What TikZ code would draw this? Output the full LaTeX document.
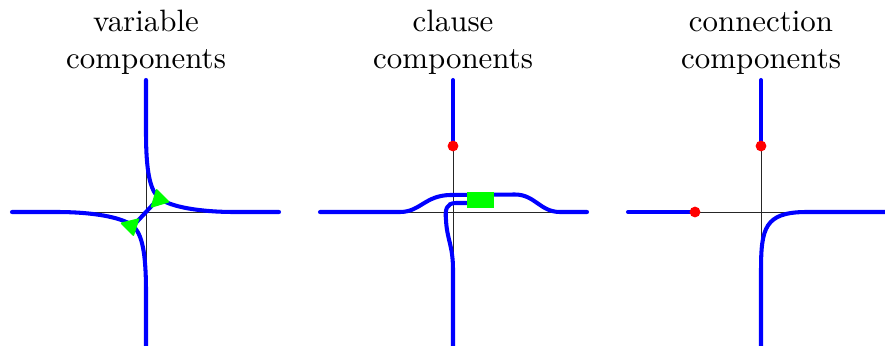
\documentclass[tikz,border=0pt]{standalone}
\begin{document}
\begin{tikzpicture}[x=0.33333pt,y=-0.33333pt,
  axis/.style={black!85, line width=0.3pt},
  wire/.style={blue, line width=1.35pt, line cap=round},
  junction/.style={fill=green, draw=green, line width=0.6pt, line join=round},
  dot/.style={red},
  lbl/.style={anchor=base, inner sep=0pt, font=\fontsize{10.3}{12.2}\selectfont}]
\useasboundingbox (0,0) rectangle (885,345);
% labels
\node[lbl] (v1) at (146,31.7) {variable};
\node[lbl] (v2) at (146,68.3) {components};
\node[lbl] (c1) at (453,31.7) {clause};
\node[lbl] (c2) at (453,68.3) {components};
\node[lbl] (n1) at (761,31.7) {connection};
\node[lbl] (n2) at (761,68.3) {components};
% ---------- panel 1: variable ----------
\draw[axis] (12,212) -- (279,212);
\draw[axis] (146,80) -- (146,346);
\draw[wire] (146,80) -- (146,132) .. controls (146,172) and (150,190) .. (159,198)
   .. controls (170,207) and (200,212) .. (235,212) -- (279,212);
\draw[wire] (146,346) -- (146,292) .. controls (146,252) and (142,234) .. (133,226)
   .. controls (122,217) and (92,212) .. (57,212) -- (12,212);
\draw[wire] (159,198) -- (133,226);
\path[junction] (156.7,190) -- (168.3,201.7) -- (151.7,206.7) -- cycle;
\path[junction] (121.7,223.3) -- (138.3,219.3) -- (133.3,235) -- cycle;
% ---------- panel 2: clause ----------
\draw[axis] (320,212) -- (587,212);
\draw[axis] (453,80) -- (453,346);
\draw[wire] (453,80) -- (453,146);
\draw[wire] (320,212) -- (400,212) .. controls (420,212) and (425,195.5) .. (450,195)
   -- (515,194.5) .. controls (535,194.5) and (540,212) .. (560,212) -- (587,212);
\draw[wire] (470,203) -- (456,203) .. controls (446,203) and (445,210) .. (446,220)
   .. controls (447,240) and (453,245) .. (453,270) -- (453,346);
\fill[green] (467,192) rectangle (494,207.5);
\fill[dot] (453,146) circle[radius=1.8pt];
% ---------- panel 3: connection ----------
\draw[axis] (628,212) -- (886,212);
\draw[axis] (761,80) -- (761,346);
\draw[wire] (761,80) -- (761,146);
\draw[wire] (628,212) -- (695,212);
\draw[wire] (761,346) -- (761,270) .. controls (761,228) and (765,212.5) .. (805,212)
   -- (890,212);
\fill[dot] (761,146) circle[radius=1.8pt];
\fill[dot] (695,212) circle[radius=1.8pt];
\end{tikzpicture}
\end{document}
